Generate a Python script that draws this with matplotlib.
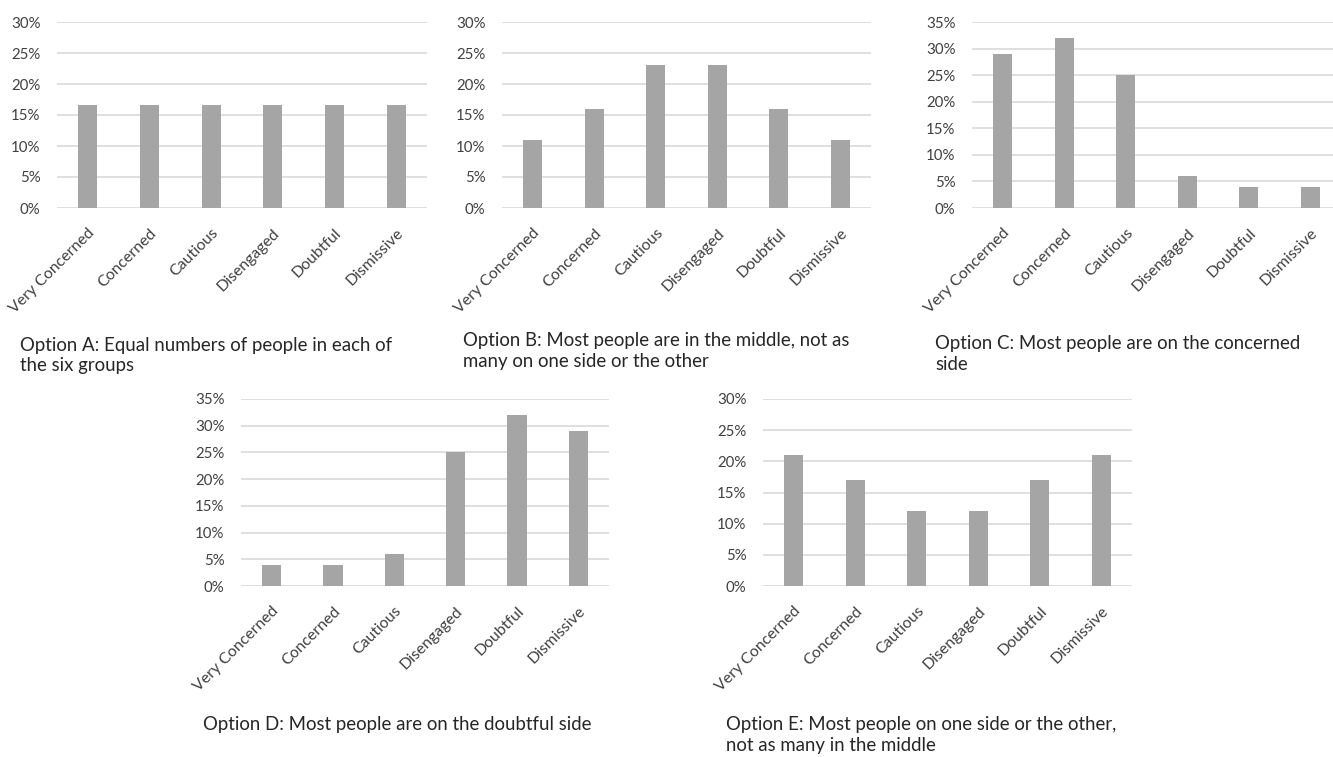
import matplotlib
matplotlib.use('Agg')
import matplotlib.pyplot as plt
from matplotlib.ticker import FuncFormatter

plt.rcParams['font.family'] = ['Lato', 'DejaVu Sans']

groups = ['Very Concerned', 'Concerned', 'Cautious', 'Disengaged', 'Doubtful', 'Dismissive']

option_a = [16.67, 16.67, 16.67, 16.67, 16.67, 16.67]
option_b = [11, 16, 23, 23, 16, 11]
option_c = [29, 32, 25, 6, 4, 4]
option_d = [4, 4, 6, 25, 32, 29]
option_e = [21, 17, 12, 12, 17, 21]

caption_a = 'Option A: Equal numbers of people in each of\nthe six groups'
caption_b = 'Option B: Most people are in the middle, not as\nmany on one side or the other'
caption_c = 'Option C: Most people are on the concerned\nside'
caption_d = 'Option D: Most people are on the doubtful side'
caption_e = 'Option E: Most people on one side or the other,\nnot as many in the middle'

W, H = 1333, 757
fig = plt.figure(figsize=(W / 100, H / 100), dpi=100)

bar_color = '#a5a5a5'
grid_color = '#d9d9d9'
tick_color = '#404040'
text_color = '#262626'


def panel(box, values, ymax, caption, cap_xy):
    l, t, r, b = box
    ax = fig.add_axes([l / W, 1 - b / H, (r - l) / W, (b - t) / H])
    ax.bar(range(len(groups)), values, width=0.31, color=bar_color, zorder=3)
    ax.set_xlim(-0.5, len(groups) - 0.5)
    ax.set_ylim(0, ymax)
    ax.set_yticks(range(0, ymax + 1, 5))
    ax.yaxis.set_major_formatter(FuncFormatter(lambda v, p: '%d%%' % v))
    ax.grid(axis='y', color=grid_color, linewidth=1.2, zorder=0)
    ax.set_axisbelow(True)
    for s in ax.spines.values():
        s.set_visible(False)
    ax.tick_params(axis='y', length=0, pad=12, labelsize=10.8, labelcolor=tick_color)
    ax.tick_params(axis='x', length=0, pad=13, labelsize=11.4, labelcolor=tick_color)
    ax.set_xticks(range(len(groups)))
    ax.set_xticklabels(groups, rotation=45, ha='right', va='top', rotation_mode='anchor')
    fig.text(cap_xy[0] / W, 1 - cap_xy[1] / H, caption, fontsize=13.4,
             color=text_color, va='top', ha='left', linespacing=1.25)
    return ax


panel((57, 22, 427, 208), option_a, 30, caption_a, (20, 337))
panel((502, 22, 871, 208), option_b, 30, caption_b, (463, 332))
panel((972, 22, 1341, 208), option_c, 35, caption_c, (935, 335))
panel((241, 399, 609, 586), option_d, 35, caption_d, (203, 716))
panel((763, 399, 1132, 586), option_e, 30, caption_e, (726, 716))

fig.savefig('out.png', dpi=100, facecolor='white')
